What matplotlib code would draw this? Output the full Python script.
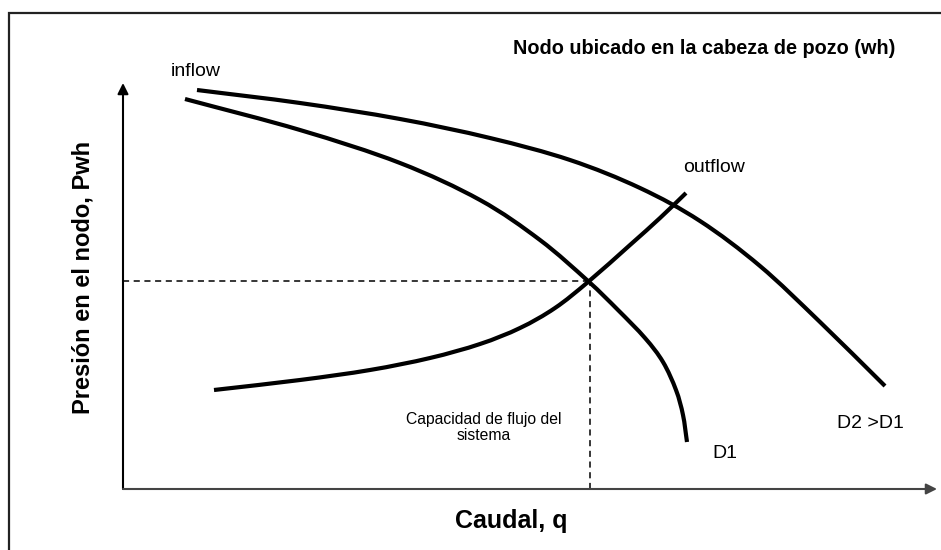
"""
Nodal analysis sketch: inflow (D1, D2) and outflow curves at the wellhead node.
"""

import numpy as np
import matplotlib.pyplot as plt
from matplotlib.path import Path
from matplotlib.patches import PathPatch, Rectangle

plt.rcParams['font.family'] = ['Liberation Sans', 'DejaVu Sans']

# curves (q, P in sketch units, origin at the axes corner)
inflow_d1_q = [62, 177, 277, 357, 417, 465, 495, 522, 540, 553, 560, 564]
inflow_d1_p = [390, 359, 326, 289, 249, 208, 179, 151, 127, 99, 74, 47]

inflow_d2_q = [74, 177, 277, 367, 447, 517, 577, 637, 697, 762]
inflow_d2_p = [399, 386, 370, 351, 329, 301, 268, 223, 167, 103]

outflow_q = [91, 177, 247, 307, 357, 397, 432, 465, 507, 537, 563]
outflow_p = [99, 109, 119, 131, 145, 161, 181, 207, 244, 271, 296]

# operating point (intersection of D1 inflow and outflow)
op_q, op_p = 466, 208

q_axis_end = 814
p_axis_end = 406


def smooth_path(xs, ys):
    # Catmull-Rom spline through the points, written as cubic beziers
    pts = np.column_stack([xs, ys]).astype(float)
    ext = np.vstack([2 * pts[0] - pts[1], pts, 2 * pts[-1] - pts[-2]])
    verts = [pts[0]]
    codes = [Path.MOVETO]
    for i in range(1, len(ext) - 2):
        p0, p1, p2, p3 = ext[i - 1], ext[i], ext[i + 1], ext[i + 2]
        verts += [p1 + (p2 - p0) / 6, p2 - (p3 - p1) / 6, p2]
        codes += [Path.CURVE4] * 3
    return Path(verts, codes)


fig = plt.figure(figsize=(9.41, 5.5), dpi=100)
ax = fig.add_axes([0, 0, 1, 1])
ax.set_xlim(-123, 818)
ax.set_ylim(-61, 489)
ax.axis('off')

# frame around the sketch (left and top edges visible)
ax.add_patch(Rectangle((-114.5, -200), 2000, 476.3 + 200, fill=False,
                       edgecolor='#222222', linewidth=1.6))

# axes with arrow heads
arrow = dict(arrowstyle='-|>', color='black', lw=1.5, mutation_scale=16,
             shrinkA=0, shrinkB=0)
ax.annotate('', xy=(0, p_axis_end), xytext=(0, 0), arrowprops=arrow)
ax.annotate('', xy=(q_axis_end, 0), xytext=(0, 0),
            arrowprops=dict(arrow, color='#444444'))

# dashed guide lines to the operating point
ax.plot([0, op_q], [op_p, op_p], color='black', lw=1.1, ls=(0, (4, 3)))
ax.plot([op_q + 1, op_q + 1], [0, op_p], color='black', lw=1.1, ls=(0, (4, 3)))

for xs, ys in [(inflow_d1_q, inflow_d1_p), (inflow_d2_q, inflow_d2_p),
               (outflow_q, outflow_p)]:
    ax.add_patch(PathPatch(smooth_path(xs, ys), fill=False, edgecolor='black',
                           linewidth=3.0, capstyle='butt'))

ax.text(390, 441, 'Nodo ubicado en la cabeza de pozo (wh)', fontsize=14.3,
        fontweight='bold', ha='left', va='center')
ax.text(48, 417, 'inflow', fontsize=14, ha='left', va='center')
ax.text(560, 322, 'outflow', fontsize=14, ha='left', va='center')
ax.text(589, 36, 'D1', fontsize=14, ha='left', va='center')
ax.text(714, 65, 'D2 >D1', fontsize=14, ha='left', va='center')
ax.text(361, 61.5, 'Capacidad de flujo del\nsistema', fontsize=11.3,
        ha='center', va='center', multialignment='center', linespacing=1.15)
ax.text(-40, 212, 'Presión en el nodo, Pwh', fontsize=17, fontweight='bold',
        rotation=90, ha='center', va='center')
ax.text(388, -32, 'Caudal, q', fontsize=18, fontweight='bold',
        ha='center', va='center')

fig.savefig('out.png', dpi=100)
